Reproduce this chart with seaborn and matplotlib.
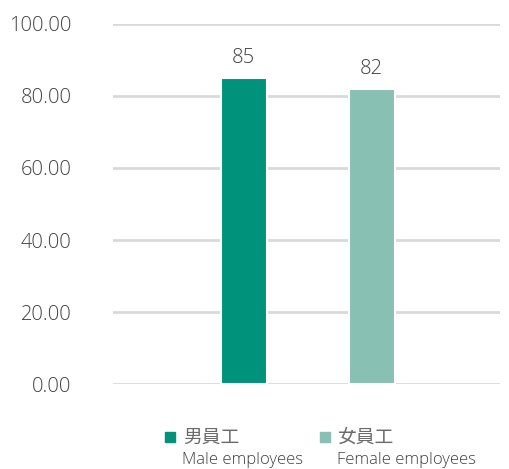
import matplotlib
matplotlib.use('Agg')
import matplotlib.pyplot as plt
from matplotlib.patches import Rectangle
import seaborn as sns
import pandas as pd

# data
categories = ['男員工\nMale employees', '女員工\nFemale employees']
labels_zh = ['男員工', '女員工']
labels_en = ['Male employees', 'Female employees']
values = [85, 82]
colors = ['#00927A', '#88C0B3']
yticks = [0, 20, 40, 60, 80, 100]

TEXT = '#404040'
GRID = '#D9D9D9'

sns.set_style('white')
plt.rcParams['font.family'] = ['Open Sans', 'Noto Sans CJK TC', 'DejaVu Sans']

df = pd.DataFrame({'cat': categories, 'val': values})

fig = plt.figure(figsize=(5.09, 4.69), dpi=100)
ax = fig.add_axes([0.222, 0.181, 0.76, 0.768])

sns.barplot(data=df, x='cat', y='val', hue='cat', palette=colors,
            saturation=1, width=0.36, edgecolor='white', linewidth=1.5,
            legend=False, ax=ax, zorder=3)

for c, v in zip(ax.containers, values):
    ax.bar_label(c, labels=[f'{v}'], padding=7, fontsize=14.5,
                 color=TEXT, fontweight='light')

ax.set_xlim(-1.02, 2.0)
ax.set_ylim(0, 100)
ax.set_yticks(yticks)
ax.set_yticklabels([f'{t:.2f}' for t in yticks], fontsize=14.5,
                   color=TEXT, fontweight='light')
ax.tick_params(axis='y', length=0, pad=30)
ax.set_xticks([])
ax.set_xlabel('')
ax.set_ylabel('')
for s in ax.spines.values():
    s.set_visible(False)
ax.yaxis.grid(True, color=GRID, linewidth=2)
ax.set_axisbelow(True)

# legend below the plot
W, H = 509, 469
for i in range(2):
    x0 = [165, 320][i]
    fig.patches.append(Rectangle((x0 / W, 1 - 442 / H), 10 / W, 10 / H,
                                 transform=fig.transFigure,
                                 color=colors[i], figure=fig))
    fig.text((x0 + 18) / W, 1 - 437 / H, labels_zh[i], fontsize=13.5,
             color='#6A6A6A', va='center', ha='left',
             family=['Noto Sans CJK TC'], fontweight='normal')
    fig.text((x0 + 17) / W, 1 - 460 / H, labels_en[i], fontsize=12,
             color=TEXT, va='center', ha='left', fontweight='light')

fig.savefig('out.png', dpi=100)
